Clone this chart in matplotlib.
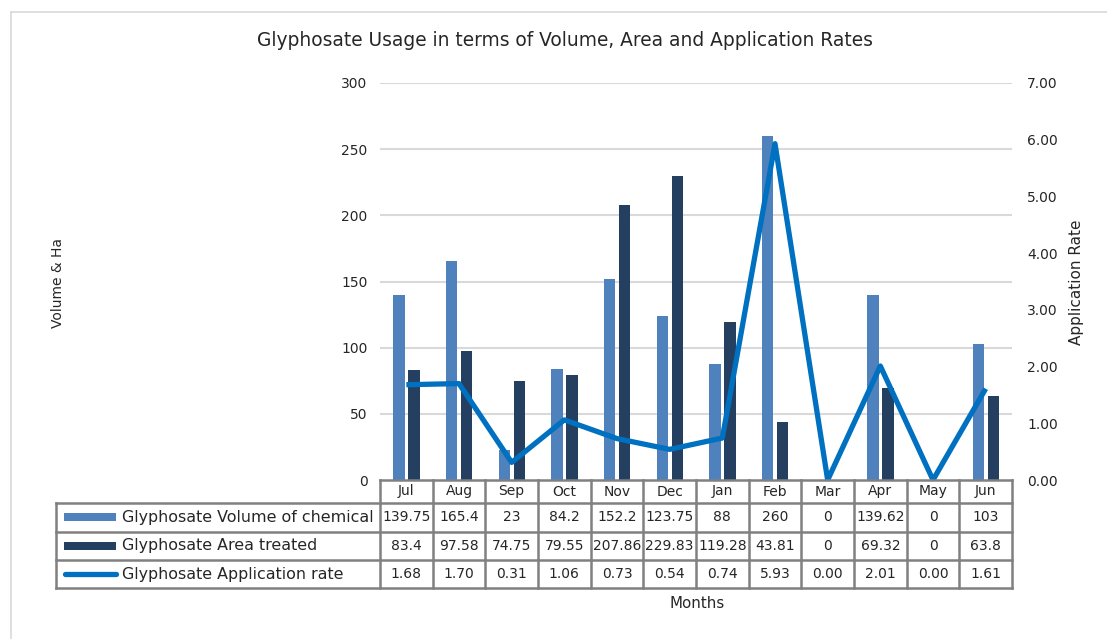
import matplotlib
matplotlib.use("Agg")
import matplotlib.pyplot as plt
import numpy as np
from matplotlib.patches import Rectangle
from matplotlib.lines import Line2D
import matplotlib.transforms as mtransforms

plt.rcParams['font.family'] = ['DejaVu Sans']

months = ["Jul", "Aug", "Sep", "Oct", "Nov", "Dec", "Jan", "Feb", "Mar", "Apr", "May", "Jun"]
volume = [139.75, 165.4, 23, 84.2, 152.2, 123.75, 88, 260, 0, 139.62, 0, 103]
area = [83.4, 97.58, 74.75, 79.55, 207.86, 229.83, 119.28, 43.81, 0, 69.32, 0, 63.8]
rate = [1.68, 1.70, 0.31, 1.06, 0.73, 0.54, 0.74, 5.93, 0.00, 2.01, 0.00, 1.61]
series_names = ["Glyphosate Volume of chemical", "Glyphosate Area treated", "Glyphosate Application rate"]
left_ticks = [0, 50, 100, 150, 200, 250, 300]
right_ticks = [0, 1, 2, 3, 4, 5, 6, 7]

W, H = 1107, 639
fig = plt.figure(figsize=(W / 100, H / 100), dpi=100)
fig.patch.set_facecolor("white")

def fx(x):
    return x / W

def fy(y):
    return 1 - y / H

c_light = "#4F81BD"
c_dark = "#243F60"
c_line = "#0070C0"
grid_c = "#D9D9D9"
tab_c = "#808080"
txt_c = "#262626"
fs = 10

# outer border
fig.add_artist(Line2D([fx(11), fx(11)], [fy(12), fy(H + 5)], color="#D9D9D9", lw=1.2))
fig.add_artist(Line2D([fx(11), fx(W + 5)], [fy(12), fy(12)], color="#D9D9D9", lw=1.2))

L, R, T, B = 380, 1012, 83, 480
ax = fig.add_axes([fx(L), fy(B), (R - L) / W, (B - T) / H])
x = np.arange(len(months))
ax.bar(x - 0.14, volume, width=0.22, color=c_light, zorder=2)
ax.bar(x + 0.145, area, width=0.22, color=c_dark, zorder=2)
ax.set_xlim(-0.5, len(months) - 0.5)
ax.set_ylim(0, 300)
ax.set_yticks(left_ticks)
ax.set_yticklabels([str(v) for v in left_ticks], fontsize=fs, color=txt_c)
ax.tick_params(axis="y", length=0, pad=9)
ax.set_xticks([])
for v in left_ticks[1:]:
    ax.axhline(v, color=grid_c, lw=1.5, zorder=1)
for s in ax.spines.values():
    s.set_visible(False)

ax2 = ax.twinx()
ax2.plot(x, rate, color=c_line, lw=3.8, zorder=3, solid_joinstyle="round", solid_capstyle="butt")
ax2.set_ylim(0, 7)
ax2.set_yticks(right_ticks)
ax2.set_yticklabels(["%.2f" % v for v in right_ticks], fontsize=fs, color=txt_c)
ax2.tick_params(axis="y", length=0, pad=11)
for s in ax2.spines.values():
    s.set_visible(False)

# axis titles
fig.text(fx(58), fy(283), "Volume & Ha", rotation=90, ha="center", va="center", fontsize=fs, color=txt_c)
fig.text(fx(1077), fy(282), "Application Rate", rotation=90, ha="center", va="center", fontsize=11, color=txt_c)
fig.text(fx(697), fy(604), "Months", ha="center", va="center", fontsize=10.8, color=txt_c)
fig.text(fx(565), fy(40), "Glyphosate Usage in terms of Volume, Area and Application Rates",
         ha="center", va="center", fontsize=13.4, color=txt_c)

# data table below plot
tr = mtransforms.blended_transform_factory(ax.transData, fig.transFigure)
rows_y = [480, 503, 531.5, 560, 588]
n = len(months)
fig.add_artist(Line2D([fx(L), fx(R)], [fy(rows_y[0])] * 2, color=tab_c, lw=1.8))
for yy in rows_y[1:]:
    fig.add_artist(Line2D([fx(56), fx(R)], [fy(yy)] * 2, color=tab_c, lw=1.8))
for i in range(n + 1):
    xb = i - 0.5
    fig.add_artist(Line2D([xb, xb], [fy(rows_y[0]), fy(rows_y[-1])], color=tab_c, lw=1.8,
                          transform=tr, clip_on=False))
fig.add_artist(Line2D([fx(56), fx(56)], [fy(rows_y[1]), fy(rows_y[-1])], color=tab_c, lw=1.8))

for i, m in enumerate(months):
    fig.text(i, fy((rows_y[0] + rows_y[1]) / 2), m, transform=tr, ha="center", va="center",
             fontsize=fs, color=txt_c)
row_vals = [["{:g}".format(v) for v in volume],
            ["{:g}".format(v) for v in area],
            ["%.2f" % v for v in rate]]
for r in range(3):
    yc = (rows_y[r + 1] + rows_y[r + 2]) / 2
    for i in range(n):
        fig.text(i, fy(yc), row_vals[r][i], transform=tr, ha="center", va="center",
                 fontsize=fs, color=txt_c)
    fig.text(fx(122), fy(yc), series_names[r], ha="left", va="center", fontsize=11.4, color=txt_c)

for r, col in enumerate([c_light, c_dark]):
    yc = (rows_y[r + 1] + rows_y[r + 2]) / 2
    fig.add_artist(Rectangle((fx(64), fy(yc + 4)), (116 - 64) / W, 8 / H, color=col, lw=0))
yc = (rows_y[3] + rows_y[4]) / 2
fig.add_artist(Line2D([fx(65), fx(116)], [fy(yc)] * 2, color=c_line, lw=3.8, solid_capstyle="round"))

fig.savefig("out.png", dpi=100, facecolor="white")
